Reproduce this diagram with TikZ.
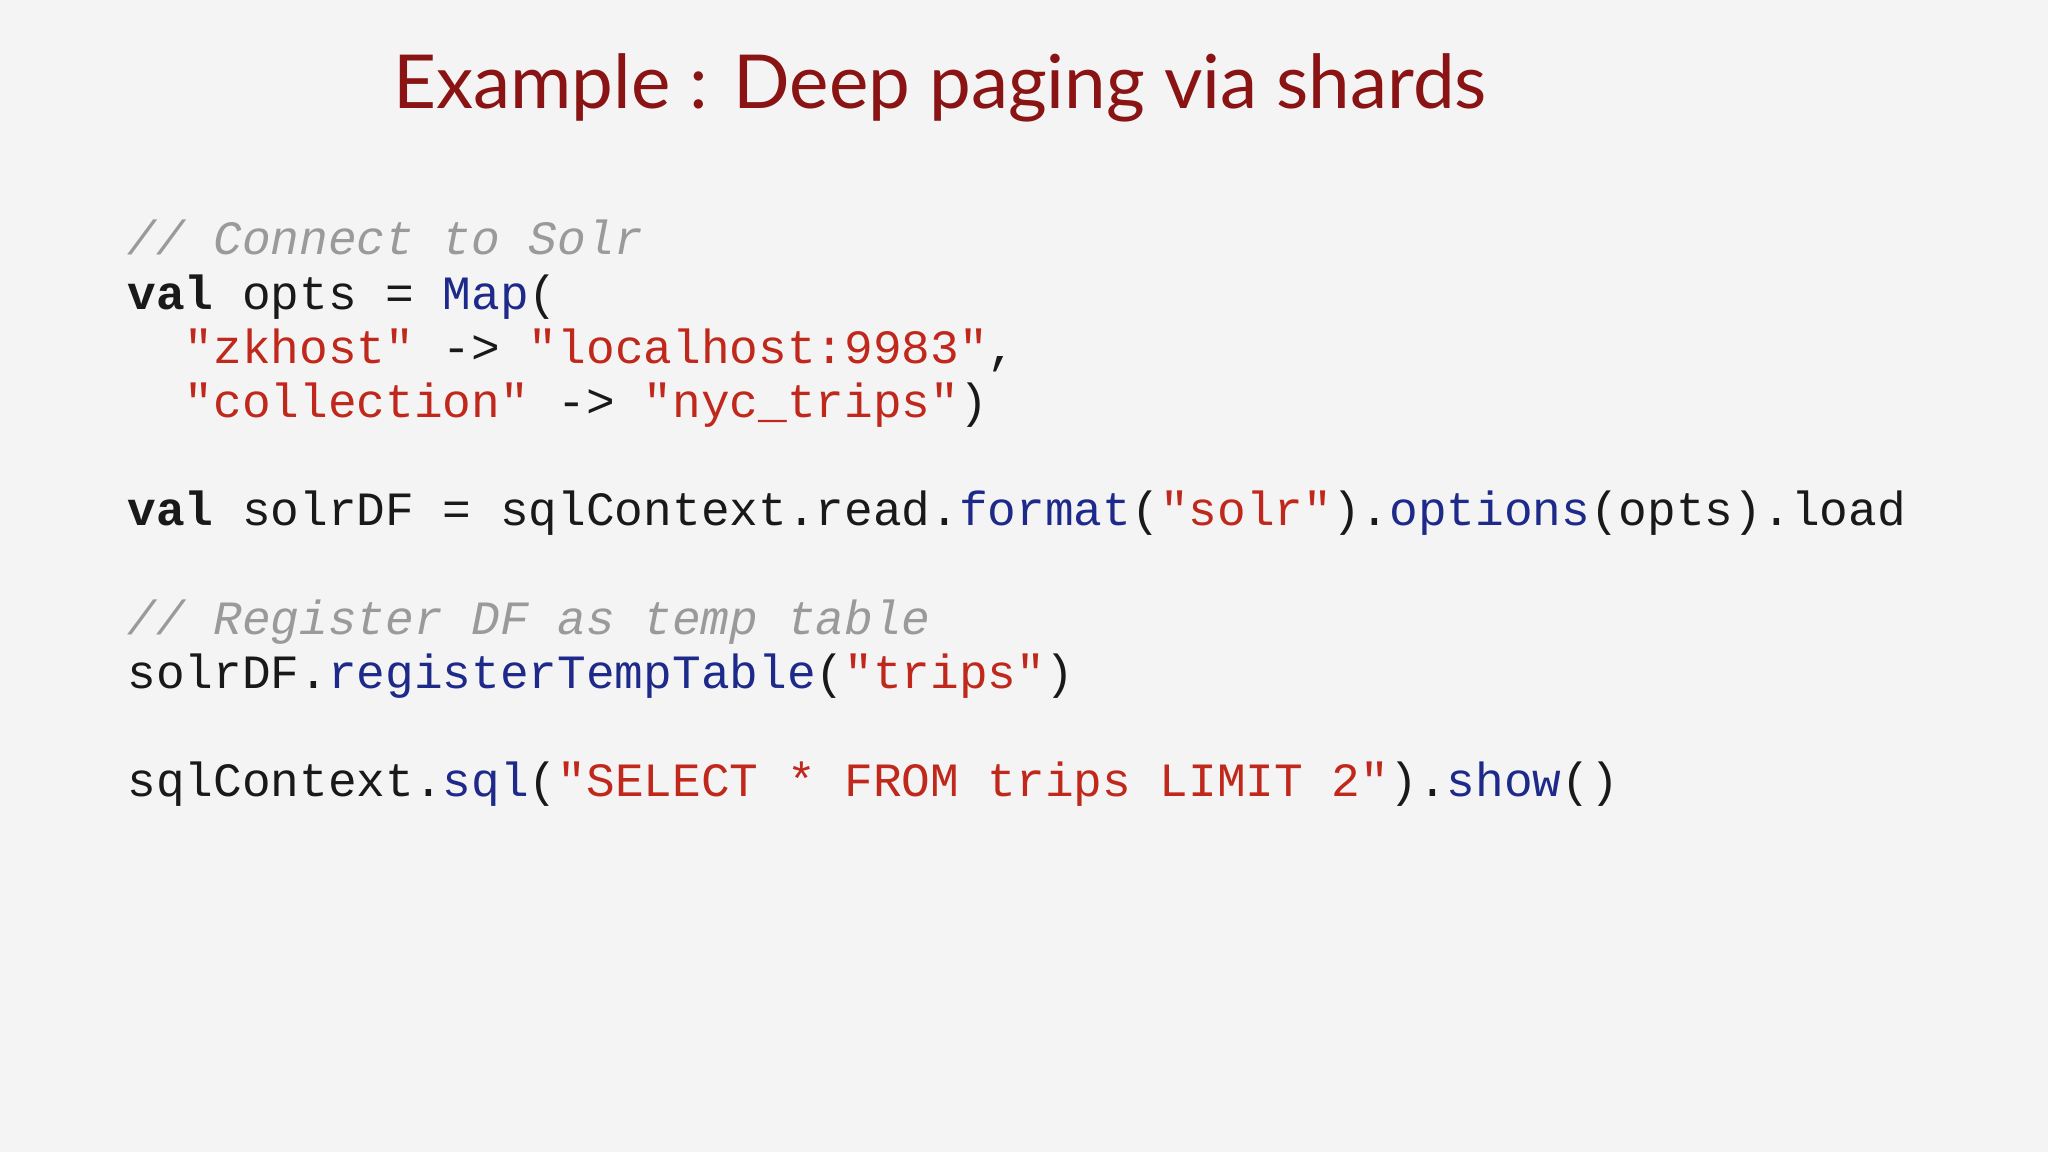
\documentclass[tikz,border=0pt]{standalone}
\usepackage{fontspec}
\setmainfont{Lato}
\setmonofont{Liberation Mono}
\definecolor{bg}{HTML}{F4F4F5}
\definecolor{ttl}{HTML}{8A1414}
\definecolor{cm}{HTML}{9A9A9A}
\definecolor{kw}{HTML}{1E2A8A}
\definecolor{st}{HTML}{C0281C}
\newcommand{\cmt}[1]{\textcolor{cm}{\itshape #1}}
\newcommand{\fn}[1]{\textcolor{kw}{#1}}
\newcommand{\str}[1]{\textcolor{st}{#1}}
\tikzset{code/.style={anchor=base west,inner sep=0pt,font=\fontsize{13.6pt}{15pt}\ttfamily,text=black!90}}
\begin{document}
\begin{tikzpicture}
\fill[bg] (0,0) rectangle (20.48,11.52);
\useasboundingbox (0,0) rectangle (20.48,11.52);
\node[anchor=base,inner sep=0pt,text=ttl,font=\fontsize{21.2pt}{26pt}\selectfont] (title) at (9.40,10.43) {Example : Deep paging via shards};
\def\lx{1.267}
\def\ly{8.97}
\node[code] (l0) at (\lx,\ly) {\cmt{// Connect to Solr}};
\node[code] (l1) at (\lx,{\ly-0.542}) {\textbf{val} opts = \fn{Map}(};
\node[code] (l2) at (\lx,{\ly-2*0.542}) {\phantom{xx}\str{"zkhost"} -> \str{"localhost:9983"},};
\node[code] (l3) at (\lx,{\ly-3*0.542}) {\phantom{xx}\str{"collection"} -> \str{"nyc\_trips"})};
\node[code] (l5) at (\lx,{\ly-5*0.542}) {\textbf{val} solrDF = sqlContext.read.\fn{format}(\str{"solr"}).\fn{options}(opts).load};
\node[code] (l7) at (\lx,{\ly-7*0.542}) {\cmt{// Register DF as temp table}};
\node[code] (l8) at (\lx,{\ly-8*0.542}) {solrDF.\fn{registerTempTable}(\str{"trips"})};
\node[code] (l10) at (\lx,{\ly-10*0.542}) {sqlContext.\fn{sql}(\str{"SELECT * FROM trips LIMIT 2"}).\fn{show}()};
\end{tikzpicture}
\end{document}
